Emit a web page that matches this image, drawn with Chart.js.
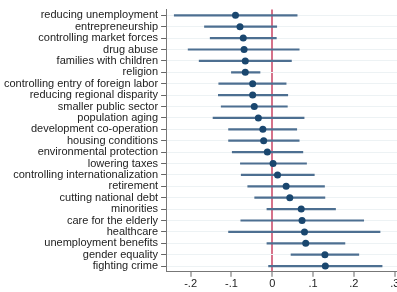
<!DOCTYPE html>
<html>
<head>
<meta charset="utf-8">
<script src="https://cdn.jsdelivr.net/npm/chart.js@4"></script>
<style>
  html, body { margin: 0; padding: 0; background: #fff; overflow: hidden; }
  #coefChart { display: block; }
</style>
</head>
<body>
<canvas id="coefChart" width="402" height="292"></canvas>
<script>
// categories, top to bottom
const CATEGORIES = [
    'reducing unemployment', 'entrepreneurship', 'controlling market forces', 'drug abuse',
    'families with children', 'religion', 'controlling entry of foreign labor',
    'reducing regional disparity', 'smaller public sector', 'population aging',
    'development co-operation', 'housing conditions', 'environmental protection',
    'lowering taxes', 'controlling internationalization', 'retirement', 'cutting national debt',
    'minorities', 'care for the elderly', 'healthcare', 'unemployment benefits',
    'gender equality', 'fighting crime'
];

// point estimates
const ESTIMATE = [-0.090, -0.079, -0.071, -0.069, -0.066, -0.066, -0.048, -0.048, -0.044, -0.034,
    -0.023, -0.021, -0.012, 0.002, 0.013, 0.034, 0.043, 0.071, 0.073, 0.079, 0.082, 0.129, 0.130];

// confidence interval bounds
const LOWER = [-0.240, -0.166, -0.152, -0.206, -0.179, -0.100, -0.131, -0.132, -0.125, -0.145,
    -0.107, -0.107, -0.098, -0.078, -0.076, -0.060, -0.043, -0.013, -0.077, -0.107, -0.013, 0.046, -0.009];
const UPPER = [0.061, 0.011, 0.010, 0.066, 0.047, -0.030, 0.034, 0.038, 0.037, 0.078,
    0.060, 0.066, 0.075, 0.084, 0.103, 0.128, 0.129, 0.155, 0.224, 0.264, 0.178, 0.212, 0.269];

const X_TICKS = [-0.2, -0.1, 0, 0.1, 0.2, 0.3];

// Stata-style labels: -.2, 0, .1 ...
function fmtTick(v) {
    if (v === 0) return '0';
    return (v < 0 ? '-' : '') + String(Math.abs(v)).replace(/^0/, '');
}

const FONT = { family: '"Liberation Sans", Arial, sans-serif', size: 11 };

new Chart(document.getElementById('coefChart'), {
    type: 'bar',
    data: {
        labels: CATEGORIES,
        datasets: [
            {
                type: 'line',
                data: ESTIMATE,
                showLine: false,
                pointRadius: 3.5,
                pointBackgroundColor: '#1a476f',
                pointBorderWidth: 0,
                order: 0
            },
            {
                data: CATEGORIES.map((c, i) => [LOWER[i], UPPER[i]]),
                backgroundColor: '#4d6f91',
                barThickness: 1.5,
                order: 1
            }
        ]
    },
    options: {
        indexAxis: 'y',
        responsive: false,
        animation: false,
        layout: { padding: { top: 6, left: 1, bottom: 0, right: 0 } },
        plugins: { legend: { display: false }, tooltip: { enabled: false } },
        scales: {
            x: {
                type: 'linear',
                min: -0.26, max: 0.308,
                afterBuildTicks: scale => { scale.ticks = X_TICKS.map(v => ({ value: v })); },
                ticks: { callback: v => fmtTick(v), font: FONT, color: '#222', padding: 1, maxRotation: 0 },
                grid: {
                    color: c => (c.tick && c.tick.value === 0) ? '#d6728a' : 'rgba(0,0,0,0)',
                    lineWidth: c => (c.tick && c.tick.value === 0) ? 2 : 0,
                    tickColor: '#666',
                    tickWidth: 1,
                    tickLength: 5
                },
                border: { color: '#777', width: 1 }
            },
            y: {
                type: 'category',
                offset: true,
                ticks: { font: FONT, color: '#222', autoSkip: false, padding: 3 },
                grid: { offset: false, color: '#edf2f4', tickColor: '#666', tickLength: 5 },
                border: { color: '#777', width: 1 }
            }
        }
    }
});
</script>
</body>
</html>
